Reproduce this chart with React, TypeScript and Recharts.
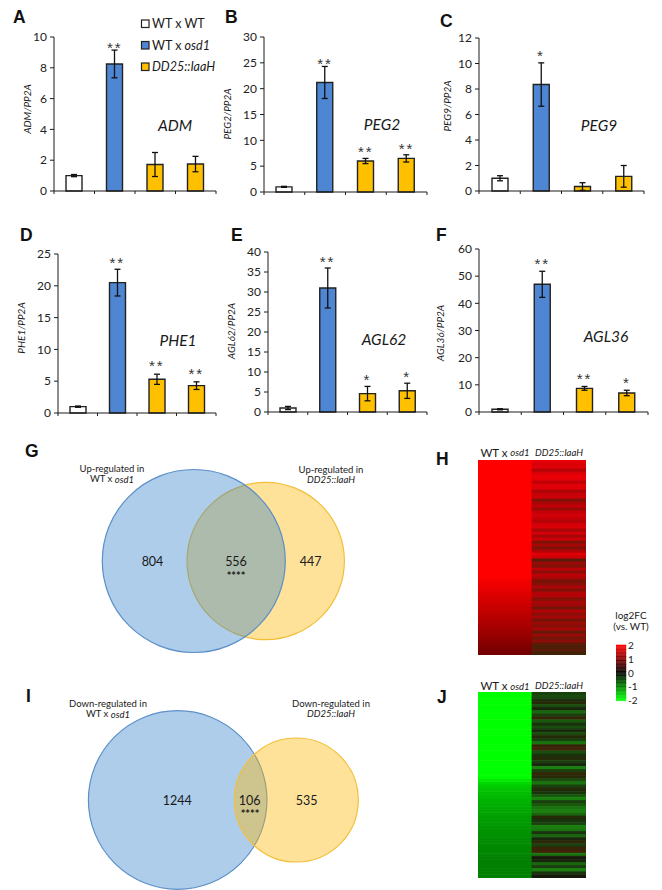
import {
  Bar,
  Cell,
  ComposedChart,
  ErrorBar,
  Line,
  BarChart,
  Scatter,
  ScatterChart,
  XAxis,
  YAxis,
} from "recharts";

// bar panels: values, error half-widths, star labels and the y position of the stars
const genotypes = ["WT x WT", "WT x osd1", "DD25::IaaH", "DD25::IaaH"];
const slots = [0.5, 1.5, 2.5, 3.5];
const barColors = ["#ffffff", "#4f86d3", "#ffc000", "#ffc000"];

const admValues = [1, 8.25, 1.72, 1.75];
const admErrors = [0.07, 0.9, 0.78, 0.5];
const admStars = ["", "**", "", ""];
const admStarY = [null, 9.5, null, null];
const admTicks = [0, 2, 4, 6, 8, 10];

const peg2Values = [1, 21.2, 6, 6.5];
const peg2Errors = [0.1, 3.1, 0.5, 0.7];
const peg2Stars = ["", "**", "**", "**"];
const peg2StarY = [null, 25.5, 8.4, 9.05];
const peg2Ticks = [0, 5, 10, 15, 20, 25, 30];

const peg9Values = [1, 8.35, 0.35, 1.15];
const peg9Errors = [0.2, 1.7, 0.3, 0.85];
const peg9Stars = ["", "*", "", ""];
const peg9StarY = [null, 10.9, null, null];
const peg9Ticks = [0, 2, 4, 6, 8, 10, 12];

const phe1Values = [1, 20.5, 5.3, 4.3];
const phe1Errors = [0.1, 2.1, 0.8, 0.6];
const phe1Stars = ["", "**", "**", "**"];
const phe1StarY = [null, 24.2, 7.95, 6.65];
const phe1Ticks = [0, 5, 10, 15, 20, 25];

const agl62Values = [1, 31, 4.6, 5.3];
const agl62Errors = [0.4, 5, 1.8, 1.9];
const agl62Stars = ["", "**", "*", "*"];
const agl62StarY = [null, 38.4, 8.9, 9.6];
const agl62Ticks = [0, 5, 10, 15, 20, 25, 30, 35, 40];

const agl36Values = [1, 47, 8.7, 7];
const agl36Errors = [0.2, 4.8, 0.7, 1];
const agl36Stars = ["", "**", "**", "*"];
const agl36StarY = [null, 55.9, 13.3, 12];
const agl36Ticks = [0, 10, 20, 30, 40, 50, 60];

// heatmaps, one log2FC per row, read top to bottom
const upOsd1 = [
  2, 2, 2, 2, 2, 2, 2, 2, 2, 2, 2, 2, 2, 2, 2, 2, 2, 2, 2, 2, 2, 2, 2, 2, 2, 2, 2, 2, 2, 2, 2, 2, 2, 2, 2, 2, 2, 2, 2,
  1.96, 1.92, 1.88, 1.84, 1.8, 1.76, 1.72, 1.68, 1.64, 1.6, 1.56, 1.52, 1.48, 1.44, 1.4, 1.36, 1.32, 1.28, 1.24, 1.2, 1.15, 1.1, 1.05, 1, 0.95, 0.9,
];
const upDd25 = [
  1.8, 1.7, 1.75, 1.4, 1.7, 1.85, 1.8, 1.5, 1.75, 1.75, 1.35, 1.55, 1.6, 1.0, 1.35, 1.5, 1.2, 1.55, 1.65, 1.55, 1.4, 1.65, 1.7, 1.3, 1.65, 1.3, 1.6, 1.0, 1.3, 1.0, 1.4, 1.75, 1.6,
  0.7, 1.2, 1.0, 1.45, 1.1, 1.5, 1.3, 0.9, 1.1, 1.35, 1.0, 1.4, 1.4, 1.0, 1.3, 1.25, 0.9, 1.4, 1.1, 1.3, 0.9, 1.2, 1.05, 1.3, 0.8, 1.2, 0.9, 1.1, 0.7, 0.6, 0.7, 0.5,
];
const downOsd1 = [
  -2, -2, -2, -2, -2, -2, -2, -2, -2, -2, -2, -2, -2, -2, -2, -2, -2, -2, -2, -2, -2, -2, -2, -2, -2, -2, -2, -2,
  -1.85, -1.7, -1.6, -1.55, -1.5, -1.46, -1.42, -1.4, -1.36, -1.34, -1.3, -1.28, -1.25, -1.22, -1.2, -1.18, -1.16, -1.14, -1.12, -1.1, -1.1, -1.08, -1.06, -1.05, -1.04, -1.02, -1, -1, -1, -1, -1, -1,
];
const downDd25 = [
  -0.5, -0.6, -0.4, 0.3, -0.6, -0.3, -0.8, -0.5, 0.4, -0.7, -0.4, -0.6, -0.3, -0.6, 0.3, -0.5, -0.9, 0.4, 0.5, -0.6, -0.4, 0.3, -0.5, -0.3, -1.0, -0.5, 0.4, 0.3, -0.6, -0.9, -0.5, 0.3, -0.4, -0.7, -1.0, -0.5, -0.7,
  -0.9, -1.0, -0.8, 0.3, -0.4, -0.5, -1.0, -0.9, -0.4, -0.8, -0.3, 0.35, -0.5, 0.45, 0.5, -0.9, -0.2, -0.3, -0.8, -0.5, -1.0, -0.4, -0.2, -0.15, -0.2,
];
const scaleValues = [
  2, 1.9, 1.8, 1.7, 1.6, 1.5, 1.4, 1.3, 1.2, 1.1, 1, 0.9, 0.8, 0.7, 0.6, 0.5, 0.4, 0.3, 0.2, 0.1, 0,
  -0.1, -0.2, -0.3, -0.4, -0.5, -0.6, -0.7, -0.8, -0.9, -1, -1.1, -1.2, -1.3, -1.4, -1.5, -1.6, -1.7, -1.8, -1.9, -2,
];
const scaleTicks = [2, 1, 0, -1, -2];

// venn diagrams
const upCounts = ["804", "556", "447"];
const downCounts = ["1244", "106", "535"];

const sans = "Lato, Carlito, sans-serif";
const ink = "#1c1c1c";

function heatColor(v: number) {
  const level = Math.round((Math.min(Math.abs(v), 2) / 2) * 255);
  return v >= 0 ? `rgb(${level},0,0)` : `rgb(0,${level},0)`;
}

// the right hand columns read muddier than the scale in the figure
function mutedColor(v: number) {
  const level = Math.round((Math.min(Math.abs(v), 2) / 2) * 255);
  if (v >= 0) return `rgb(${level},${Math.max(0, Math.round((1.5 - v) * 35))},8)`;
  return `rgb(25,${level},14)`;
}

function StarLabel(props: any) {
  const { x, y, index, stars } = props;
  if (y == null || !stars[index]) return null;
  return (
    <text
      x={x}
      y={y}
      dy={8.5}
      textAnchor="middle"
      fontFamily="Liberation Sans"
      fontSize={15}
      letterSpacing={2}
      fill="#333"
    >
      {stars[index]}
    </text>
  );
}

interface PanelProps {
  axisX: number;
  right: number;
  top: number;
  bottom: number;
  max: number;
  ticks: number[];
  values: number[];
  errors: number[];
  stars: string[];
  starY: (number | null)[];
}

function GenePanel({ axisX, right, top, bottom, max, ticks, values, errors, stars, starY }: PanelProps) {
  const rows = genotypes.map((g, i) => ({
    genotype: g,
    slot: slots[i],
    value: values[i],
    err: errors[i],
    starY: starY[i],
  }));
  return (
    <div style={{ position: "absolute", left: axisX - 50, top: top - 8 }}>
      <ComposedChart
        width={right - axisX + 54}
        height={bottom - top + 16}
        data={rows}
        margin={{ top: 8, right: 4, bottom: 0, left: 0 }}
      >
        <XAxis
          dataKey="slot"
          type="number"
          domain={[0, 4]}
          ticks={[0, 1, 2, 3, 4]}
          interval={0}
          tickFormatter={() => ""}
          height={8}
          tickSize={3}
          stroke={ink}
        />
        <YAxis
          type="number"
          domain={[0, max]}
          ticks={ticks}
          interval={0}
          width={50}
          tickSize={4}
          tickMargin={3}
          stroke={ink}
          tick={{ fill: "#222", fontSize: 12, fontFamily: sans }}
        />
        <Bar dataKey="value" barSize={16} stroke="#222" strokeWidth={1.4} isAnimationActive={false}>
          {rows.map((_, i) => (
            <Cell key={i} fill={barColors[i]} />
          ))}
          <ErrorBar dataKey="err" width={3} stroke="#111" strokeWidth={1.3} isAnimationActive={false} />
        </Bar>
        <Line
          dataKey="starY"
          stroke="none"
          dot={false}
          legendType="none"
          isAnimationActive={false}
          label={(p: any) => <StarLabel key={p.index} {...p} stars={stars} />}
        />
      </ComposedChart>
    </div>
  );
}

function Heatmap({ left, right, top, bottom, leftCol, rightCol }: any) {
  const rows = leftCol.map((_: number, i: number) => ({ row: i, a: 1, b: 1 }));
  return (
    <div style={{ position: "absolute", left, top, filter: "blur(0.6px)" }}>
      <BarChart
        layout="vertical"
        width={right - left}
        height={bottom - top}
        data={rows}
        barCategoryGap={0}
        margin={{ top: 0, right: 0, bottom: 0, left: 0 }}
      >
        <XAxis type="number" domain={[0, 2]} hide />
        <YAxis type="category" dataKey="row" hide />
        <Bar dataKey="a" stackId="h" isAnimationActive={false}>
          {leftCol.map((v: number, i: number) => (
            <Cell key={i} fill={heatColor(v)} stroke={heatColor(v)} strokeWidth={0.8} />
          ))}
        </Bar>
        <Bar dataKey="b" stackId="h" isAnimationActive={false}>
          {rightCol.map((v: number, i: number) => (
            <Cell key={i} fill={mutedColor(v)} stroke={mutedColor(v)} strokeWidth={0.8} />
          ))}
        </Bar>
      </BarChart>
    </div>
  );
}

function ColorScale() {
  const rows = scaleValues.map((v) => ({ v, w: 1 }));
  return (
    <div style={{ position: "absolute", left: 616, top: 639 }}>
      <BarChart
        layout="vertical"
        width={32}
        height={68}
        data={rows}
        barCategoryGap={0}
        margin={{ top: 6, right: 0, bottom: 6, left: 0 }}
      >
        <XAxis type="number" domain={[0, 1]} hide />
        <YAxis
          type="category"
          dataKey="v"
          orientation="right"
          ticks={scaleTicks}
          interval={0}
          width={22}
          axisLine={false}
          tickLine={false}
          tickSize={1}
          tickMargin={1}
          tickFormatter={(v) => String(v)}
          tick={{ fill: "#222", fontSize: 10, fontFamily: sans }}
        />
        <Bar dataKey="w" isAnimationActive={false}>
          {rows.map((r, i) => (
            <Cell key={i} fill={heatColor(r.v)} stroke={heatColor(r.v)} strokeWidth={0.6} />
          ))}
        </Bar>
      </BarChart>
    </div>
  );
}

function vennShape(r: number, fill: string, edge: string) {
  return (p: any) => (
    <circle cx={p.cx} cy={p.cy} r={r} fill={fill} fillOpacity={0.4} stroke={edge} strokeWidth={1.2} />
  );
}

function Venn({ top, height, blue, yellow, blueOnTop }: any) {
  const blueSet = (
    <Scatter
      data={[blue]}
      isAnimationActive={false}
      shape={vennShape(blue.r, "rgb(50,130,202)", "#5b8fc9")}
    />
  );
  const yellowSet = (
    <Scatter
      data={[yellow]}
      isAnimationActive={false}
      shape={vennShape(yellow.r, "rgb(255,182,2)", "#f3bf3a")}
    />
  );
  return (
    <div style={{ position: "absolute", left: 0, top }}>
      <ScatterChart width={400} height={height} margin={{ top: 0, right: 0, bottom: 0, left: 0 }}>
        <XAxis type="number" dataKey="x" domain={[0, 400]} hide />
        <YAxis type="number" dataKey="y" domain={[0, height]} reversed hide />
        {blueOnTop ? yellowSet : blueSet}
        {blueOnTop ? blueSet : yellowSet}
      </ScatterChart>
    </div>
  );
}

function T({ x, y, size = 9.5, anchor = "middle", italic, children, family = sans, weight, rotate, fill = "#1a1a1a" }: any) {
  return (
    <text
      x={x}
      y={y}
      fontSize={size}
      fontFamily={family}
      fontWeight={weight}
      fontStyle={italic ? "italic" : "normal"}
      textAnchor={anchor}
      dominantBaseline="central"
      fill={fill}
      transform={rotate ? `rotate(${rotate} ${x} ${y})` : undefined}
    >
      {children}
    </text>
  );
}

function Letter({ x, y, children }: any) {
  return (
    <text x={x} y={y} fontSize={17.5} fontWeight="bold" fontFamily="Liberation Sans" fill="#111">
      {children}
    </text>
  );
}

const it = { fontStyle: "italic" } as const;

export default function App() {
  return (
    <div style={{ position: "absolute", left: 0, top: 0, width: 662, height: 890, background: "#fff", overflow: "hidden" }}>
      <GenePanel axisX={54} right={216} top={37} bottom={191} max={10} ticks={admTicks} values={admValues} errors={admErrors} stars={admStars} starY={admStarY} />
      <GenePanel axisX={264} right={427} top={37} bottom={192} max={30} ticks={peg2Ticks} values={peg2Values} errors={peg2Errors} stars={peg2Stars} starY={peg2StarY} />
      <GenePanel axisX={479} right={644} top={38} bottom={191} max={12} ticks={peg9Ticks} values={peg9Values} errors={peg9Errors} stars={peg9Stars} starY={peg9StarY} />
      <GenePanel axisX={58} right={216} top={254} bottom={413} max={25} ticks={phe1Ticks} values={phe1Values} errors={phe1Errors} stars={phe1Stars} starY={phe1StarY} />
      <GenePanel axisX={268} right={427} top={252} bottom={412} max={40} ticks={agl62Ticks} values={agl62Values} errors={agl62Errors} stars={agl62Stars} starY={agl62StarY} />
      <GenePanel axisX={479} right={648} top={249} bottom={412} max={60} ticks={agl36Ticks} values={agl36Values} errors={agl36Errors} stars={agl36Stars} starY={agl36StarY} />

      <Venn top={460} height={200} blue={{ x: 193.8, y: 101, r: 91.5 }} yellow={{ x: 265.7, y: 101, r: 78.7 }} blueOnTop />
      <Venn top={700} height={190} blue={{ x: 177.7, y: 100, r: 89.3 }} yellow={{ x: 296.3, y: 100, r: 62 }} blueOnTop={false} />

      <Heatmap left={478} right={586} top={460} bottom={655} leftCol={upOsd1} rightCol={upDd25} />
      <Heatmap left={478} right={586} top={692} bottom={878} leftCol={downOsd1} rightCol={downDd25} />
      <ColorScale />

      <svg width={662} height={890} style={{ position: "absolute", left: 0, top: 0, pointerEvents: "none" }}>
        <Letter x={13} y={23}>A</Letter>
        <Letter x={225} y={23}>B</Letter>
        <Letter x={440} y={27}>C</Letter>
        <Letter x={20} y={241}>D</Letter>
        <Letter x={231} y={241}>E</Letter>
        <Letter x={436} y={241}>F</Letter>
        <Letter x={25} y={457}>G</Letter>
        <Letter x={436} y={465}>H</Letter>
        <Letter x={26} y={702}>I</Letter>
        <Letter x={437} y={703}>J</Letter>

        <rect x={141.5} y={20} width={7.5} height={7.5} fill="#fff" stroke="#222" strokeWidth={1.2} />
        <rect x={141.5} y={41.5} width={7.5} height={7.5} fill="#4f86d3" stroke="#222" strokeWidth={1.2} />
        <rect x={141.5} y={63} width={7.5} height={7.5} fill="#ffc000" stroke="#222" strokeWidth={1.2} />
        <T x={152} y={23} size={12.5} anchor="start">WT x WT</T>
        <T x={152} y={45} size={12.5} anchor="start">WT x <tspan {...it}>osd1</tspan></T>
        <T x={152} y={66.5} size={12.5} anchor="start" italic>DD25::IaaH</T>

        <T x={27} y={109} size={10} italic rotate={-90}>ADM/PP2A</T>
        <T x={227} y={114} size={10} italic rotate={-90}>PEG2/PP2A</T>
        <T x={447} y={106} size={10} italic rotate={-90}>PEG9/PP2A</T>
        <T x={21} y={328} size={10} italic rotate={-90}>PHE1/PP2A</T>
        <T x={231} y={331} size={10} italic rotate={-90}>AGL62/PP2A</T>
        <T x={440} y={333} size={10} italic rotate={-90}>AGL36/PP2A</T>

        <T x={175} y={125} size={15.5} italic>ADM</T>
        <T x={382} y={124} size={15.5} italic>PEG2</T>
        <T x={599} y={125} size={15.5} italic>PEG9</T>
        <T x={178} y={340} size={15.5} italic>PHE1</T>
        <T x={384} y={339} size={15.5} italic>AGL62</T>
        <T x={606} y={336} size={15.5} italic>AGL36</T>

        <T x={112} y={468}>Up-regulated in</T>
        <T x={112} y={478.5}>WT x <tspan {...it}>osd1</tspan></T>
        <T x={331} y={469}>Up-regulated in</T>
        <T x={331} y={479.5} italic>DD25::IaaH</T>
        <T x={152.5} y={561} size={12.5}>{upCounts[0]}</T>
        <T x={236} y={561} size={12.5}>{upCounts[1]}</T>
        <T x={310.7} y={561} size={12.5}>{upCounts[2]}</T>
        <T x={236} y={575} size={11} weight="bold">****</T>

        <T x={108} y={703}>Down-regulated in</T>
        <T x={108} y={713.5}>WT x <tspan {...it}>osd1</tspan></T>
        <T x={331} y={703}>Down-regulated in</T>
        <T x={331} y={713.5} italic>DD25::IaaH</T>
        <T x={177.3} y={800} size={12.5}>{downCounts[0]}</T>
        <T x={249.7} y={800} size={12.5}>{downCounts[1]}</T>
        <T x={306.7} y={800} size={12.5}>{downCounts[2]}</T>
        <T x={250} y={813.5} size={11} weight="bold">****</T>

        <T x={505} y={452} size={11.5}>WT x <tspan {...it} fontSize={9.5}>osd1</tspan></T>
        <T x={559} y={452} size={9.5} italic>DD25::IaaH</T>
        <T x={505} y={685.5} size={11.5}>WT x <tspan {...it} fontSize={9.5}>osd1</tspan></T>
        <T x={559} y={685.5} size={9.5} italic>DD25::IaaH</T>

        <T x={631} y={615} size={10}>log2FC</T>
        <T x={631} y={625.5} size={10}>(vs. WT)</T>
      </svg>
    </div>
  );
}
